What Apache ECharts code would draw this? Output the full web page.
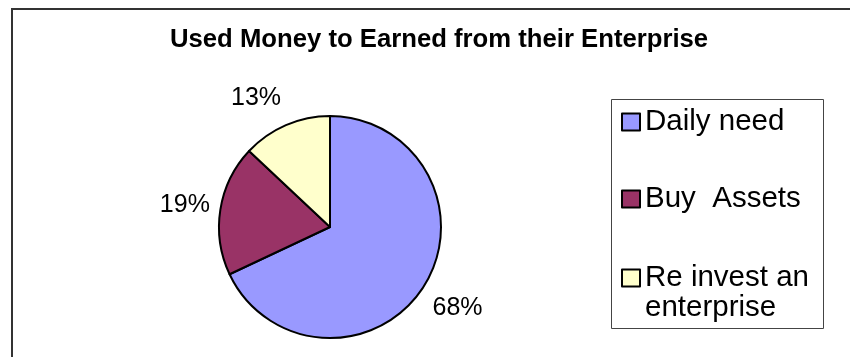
<!DOCTYPE html>
<html>
<head>
<meta charset="utf-8">
<script src="https://cdn.jsdelivr.net/npm/echarts@6/dist/echarts.min.js"></script>
<style>
  html, body { margin: 0; padding: 0; background: #ffffff; }
  #chart { width: 850px; height: 357px; }
</style>
</head>
<body>
<div id="chart"></div>
<script>
// Shares of money earned from the enterprise, by use (percent)
const categories = ['Daily need', 'Buy  Assets', 'Re invest an enterprise'];
const shares = [68, 19, 13];
const sliceColors = ['#9999FF', '#993366', '#FFFFCC'];
const chartTitle = 'Used Money to Earned from their Enterprise';

const FONT = '"Liberation Sans", Arial, Helvetica, sans-serif';

const pieData = categories.map((name, i) => ({
  name: name,
  value: shares[i],
  itemStyle: { color: sliceColors[i] }
}));

// Same values, used only to place the percentage labels on a ring outside the pie
const labelData = categories.map((name, i) => ({ name: name, value: shares[i] }));

// One legend block per category so each row can be placed inside the framed box.
// The wrapped entry gets a leading blank line so its first line sits beside the swatch.
const legendRowTops = [107, 184, 233];
const legends = categories.map((name, i) => ({
  data: [name],
  orient: 'vertical',
  left: 621,
  top: legendRowTops[i],
  padding: 0,
  icon: 'rect',
  itemWidth: 18,
  itemHeight: 17,
  selectedMode: false,
  itemStyle: { borderColor: '#000', borderWidth: 2 },
  formatter: n => (i === 2 ? '\n' + n : n),
  textStyle: {
    fontFamily: FONT,
    fontSize: 29.5,
    color: '#000',
    lineHeight: 30,
    width: 175,
    overflow: 'break'
  }
}));

const chart = echarts.init(document.getElementById('chart'), null, { renderer: 'canvas' });

chart.setOption({
  backgroundColor: '#ffffff',
  animation: false,
  title: {
    text: chartTitle,
    left: 170,
    top: 27,
    padding: 0,
    textStyle: { fontFamily: FONT, fontSize: 25.7, fontWeight: 'bold', color: '#000' }
  },
  legend: legends,
  graphic: [
    {
      type: 'rect',
      shape: { x: 12, y: 9, width: 900, height: 400 },
      style: { fill: 'none', stroke: '#333', lineWidth: 2 },
      silent: true
    },
    {
      type: 'rect',
      shape: { x: 611.5, y: 99.5, width: 212, height: 229 },
      style: { fill: 'none', stroke: '#444', lineWidth: 1 },
      silent: true
    }
  ],
  series: [
    {
      type: 'pie',
      center: [330, 227],
      radius: 111,
      startAngle: 90,
      clockwise: true,
      data: pieData,
      itemStyle: { borderColor: '#000', borderWidth: 2 },
      label: { show: false },
      labelLine: { show: false },
      emphasis: { disabled: true }
    },
    {
      type: 'pie',
      silent: true,
      center: [330, 227],
      radius: [111, 185],
      startAngle: 90,
      clockwise: true,
      data: labelData,
      itemStyle: { color: 'rgba(0,0,0,0)', borderWidth: 0 },
      label: {
        show: true,
        position: 'inside',
        formatter: p => p.value + '%',
        fontFamily: FONT,
        fontSize: 25,
        color: '#000',
        textBorderWidth: 0
      },
      labelLine: { show: false },
      labelLayout: p => (p.dataIndex === 2 ? { dx: -14, dy: 10 } : (p.dataIndex === 1 ? { dx: 4, dy: 2 } : {})),
      emphasis: { disabled: true }
    }
  ]
});
</script>
</body>
</html>
